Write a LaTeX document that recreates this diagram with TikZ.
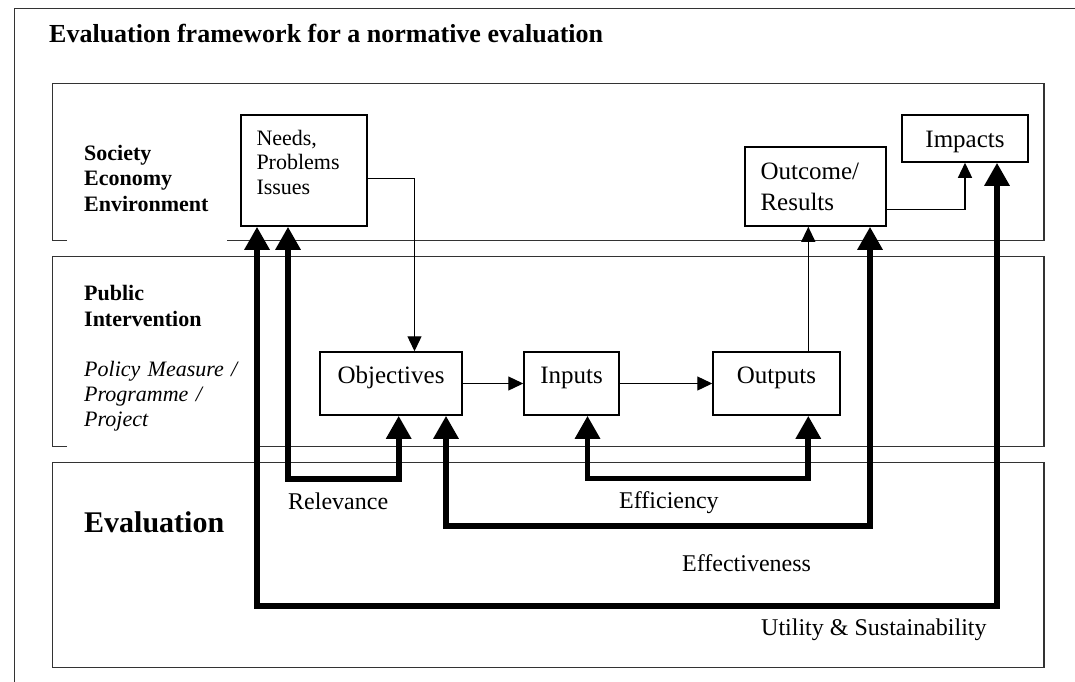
\documentclass[tikz,border=0pt]{standalone}
\usepackage{fontspec}
\setmainfont{Liberation Serif}
\usetikzlibrary{arrows.meta}
\tikzset{
  band/.style={draw=black!80, line width=1.5pt},
  box/.style={draw=black, line width=1.5pt, anchor=base, inner sep=0pt, align=left, font=\fontsize{25}{29}\selectfont},
  side/.style={anchor=base west, inner sep=0pt, align=left, text width=160pt, font=\bfseries\fontsize{22}{25.5}\selectfont},
  lbl/.style={anchor=base west, inner sep=0pt, font=\fontsize{24}{28}\selectfont},
  thinarr/.style={-{Triangle[length=15pt,width=14pt]}, line width=1.3pt},
  thkarr/.style={{Triangle[length=23pt,width=24pt]}-{Triangle[length=23pt,width=24pt]}, line width=5.8pt},
}

\begin{document}
\begin{tikzpicture}[x=1pt, y=-1pt]
  \useasboundingbox (0,0) rectangle (1075,681);
  % frame and the three bands
  \draw[band] (14.5,700) -- (14.5,8.3) -- (1100,8.3);
  \draw[band] (67,240.7) -- (52.4,240.7) -- (52.4,83.3) -- (1044,83.3) -- (1044,240.7) -- (227,240.7);
  \draw[band] (67,446.7) -- (52.4,446.7) -- (52.4,256.7) -- (1044,256.7) -- (1044,446.7) -- (258,446.7);
  \draw[band] (52.4,462.7) rectangle (1044,667.7);

  \node[anchor=base west, inner sep=0pt, font=\bfseries\fontsize{26}{30}\selectfont] (title) at (49,42.7) {Evaluation framework for a normative evaluation};
  \node[side] (society) at (84,160) {Society\\Economy\\Environment};
  \node[side] (public) at (84,300.7) {Public\\Intervention};
  \node[side, font=\itshape\fontsize{22}{25}\selectfont] (policy) at (84,376.7) {Policy Measure /\\Programme /\\Project};
  \node[anchor=base west, inner sep=0pt, font=\bfseries\fontsize{30}{34}\selectfont] (evallbl) at (84,532.7) {Evaluation};

  % boxes
  \node[box, minimum width=126pt, text width=95pt, text height=30pt, text depth=81pt, font=\fontsize{22}{24.5}\selectfont] (needs) at (304,145) {Needs,\\Problems\\Issues};
  \node[box, minimum width=141pt, text width=110pt, text height=32pt, text depth=47pt, font=\fontsize{25}{31}\selectfont] (outcome) at (815.5,179) {Outcome/\\Results};
  \node[box, minimum width=126pt, text height=32pt, text depth=15pt] (impacts) at (965,147) {Impacts};
  \node[box, minimum width=142pt, text height=31pt, text depth=32pt] (objectives) at (391,383) {Objectives};
  \node[box, minimum width=95pt, text height=31pt, text depth=32pt] (inputs) at (571.5,383) {Inputs};
  \node[box, minimum width=127pt, text height=31pt, text depth=32pt] (outputs) at (776.5,383) {Outputs};

  % thin flow
  \draw[thinarr] (needs.east |- 0,178.3) -| (414.5,0 |- objectives.north);
  \draw[thinarr] (objectives.east) -- (inputs.west);
  \draw[thinarr] (inputs.east) -- (outputs.west);
  \draw[thinarr] (808.3,0 |- outputs.north) -- (808.3,0 |- outcome.south);
  \draw[thinarr] (outcome.east |- 0,209.3) -| (965,0 |- impacts.south);

  % evaluation criteria
  \draw[thkarr] (288,0 |- needs.south) -- (288,479.3) -| (398.7,0 |- objectives.south);
  \draw[thkarr] (587.5,0 |- inputs.south) -- (587.5,478.5) -| (808.3,0 |- outputs.south);
  \draw[thkarr] (446,0 |- objectives.south) -- (446,526) -| (870,0 |- outcome.south);
  \draw[thkarr] (257,0 |- needs.south) -- (257,606) -| (997,0 |- impacts.south);

  \node[lbl] (relevance) at (288,509) {Relevance};
  \node[lbl] (efficiency) at (619,508) {Efficiency};
  \node[lbl] (effectiveness) at (682,571.7) {Effectiveness};
  \node[lbl] (utility) at (761,635) {Utility \& Sustainability};
\end{tikzpicture}
\end{document}
